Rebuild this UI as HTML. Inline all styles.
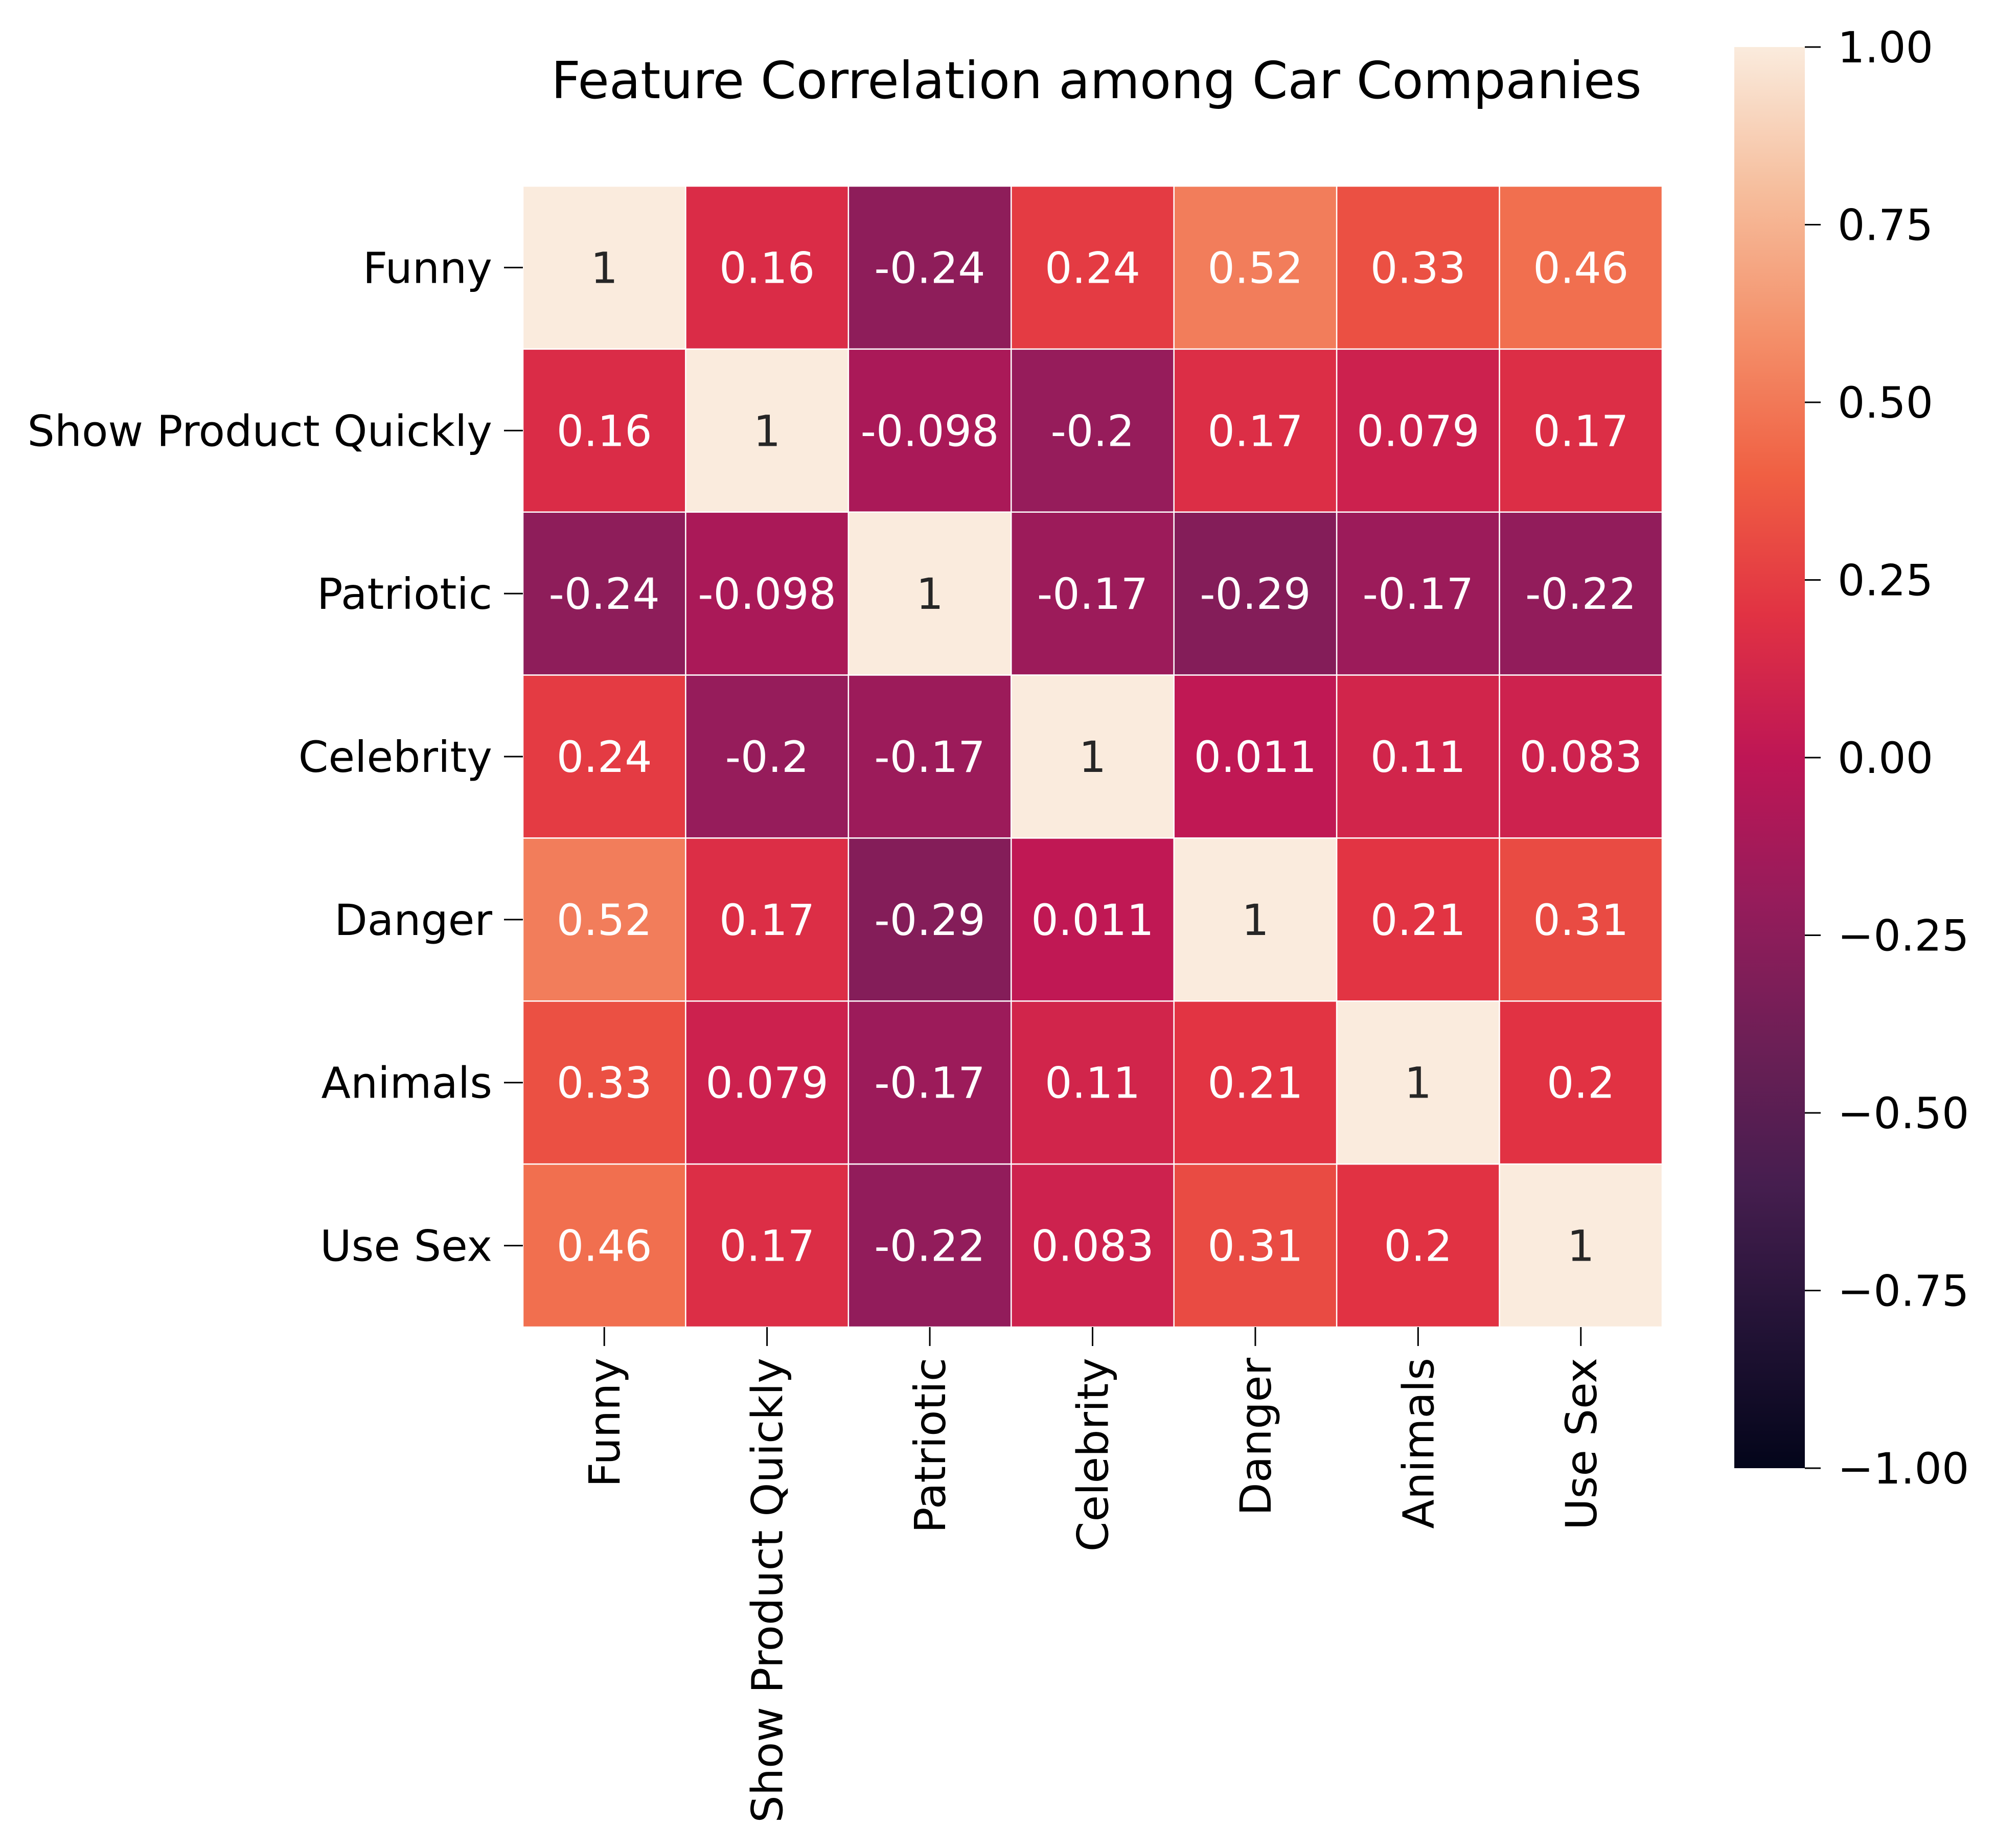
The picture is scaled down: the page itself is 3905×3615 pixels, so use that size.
<!DOCTYPE html>
<html><head><meta charset="utf-8">
<style>
html,body{margin:0;padding:0;background:#fff;}
svg{display:block;font-family:"DejaVu Sans","Liberation Sans",sans-serif;}
</style></head>
<body>
<svg id="chart" width="3905" height="3615" viewBox="0 0 3905 3615" xmlns="http://www.w3.org/2000/svg">
<defs>
<linearGradient id="cbgrad" x1="0" y1="1" x2="0" y2="0">
<stop offset="0" stop-color="rgb(3,5,26)"/>
<stop offset="0.1" stop-color="rgb(35,19,54)"/>
<stop offset="0.2" stop-color="rgb(70,30,79)"/>
<stop offset="0.3" stop-color="rgb(109,31,86)"/>
<stop offset="0.4" stop-color="rgb(150,28,91)"/>
<stop offset="0.5" stop-color="rgb(190,22,85)"/>
<stop offset="0.6" stop-color="rgb(225,50,67)"/>
<stop offset="0.7" stop-color="rgb(240,96,67)"/>
<stop offset="0.8" stop-color="rgb(244,145,107)"/>
<stop offset="0.9" stop-color="rgb(246,190,157)"/>
<stop offset="1" stop-color="rgb(250,235,221)"/>
</linearGradient>
</defs>
<text x="2145" y="192" font-size="100" text-anchor="middle" fill="#000">Feature Correlation among Car Companies</text>
<g id="cells"></g>
<g id="yaxis"></g>
<g id="xaxis"></g>
<rect x="3393" y="92" width="138" height="2780" fill="url(#cbgrad)"/>
<g id="cbar"></g>
</svg>
<script>
const categories = ["Funny","Show Product Quickly","Patriotic","Celebrity","Danger","Animals","Use Sex"];
const row0 = [1,0.16,-0.24,0.24,0.52,0.33,0.46];
const row1 = [0.16,1,-0.098,-0.2,0.17,0.079,0.17];
const row2 = [-0.24,-0.098,1,-0.17,-0.29,-0.17,-0.22];
const row3 = [0.24,-0.2,-0.17,1,0.011,0.11,0.083];
const row4 = [0.52,0.17,-0.29,0.011,1,0.21,0.31];
const row5 = [0.33,0.079,-0.17,0.11,0.21,1,0.2];
const row6 = [0.46,0.17,-0.22,0.083,0.31,0.2,1];
const matrix = [row0,row1,row2,row3,row4,row5,row6];
const cbTicks = [1,0.75,0.5,0.25,0,-0.25,-0.5,-0.75,-1];
const cbLabels = ["1.00","0.75","0.50","0.25","0.00","\u22120.25","\u22120.50","\u22120.75","\u22121.00"];

const NS="http://www.w3.org/2000/svg";
const L=1023, T=364, CW=(3252-1023)/7, CH=(2596-364)/7;
const FS=84;
const stops=[[3,5,26],[35,19,54],[70,30,79],[109,31,86],[150,28,91],[190,22,85],[225,50,67],[240,96,67],[244,145,107],[246,190,157],[250,235,221]];
function cmap(v){let t=(v+1)/2;t=Math.max(0,Math.min(1,t));const p=t*10,i=Math.min(9,Math.floor(p)),f=p-i;
 return stops[i].map((a,k)=>Math.round(a+(stops[i+1][k]-a)*f));}
function xs(j){return L+j*CW;}
function ys(i){return T+i*CH;}
function cy(v){return 92+(1-v)/2*2780;}
function mk(tag,attrs,parent){const e=document.createElementNS(NS,tag);for(const k in attrs)e.setAttribute(k,attrs[k]);parent.appendChild(e);return e;}
function lin(c){c/=255;return c<=0.03928?c/12.92:Math.pow((c+0.055)/1.055,2.4);}

const cells=document.getElementById('cells');
matrix.forEach((row,i)=>row.forEach((v,j)=>{
 const c=cmap(v);
 const r=mk('rect',{x:xs(j),y:ys(i),width:CW,height:CH,fill:`rgb(${c})`,stroke:'#fff','stroke-width':2.5},cells);
 
 
 const lum=0.2126*lin(c[0])+0.7152*lin(c[1])+0.0722*lin(c[2]);
 const t=mk('text',{x:xs(j)+CW/2,y:ys(i)+CH/2+30,'font-size':FS,'text-anchor':'middle',fill:lum>0.408?'#262626':'#fff'},cells);
 t.textContent=String(v);
 
 
}));
const ya=document.getElementById('yaxis'), xa=document.getElementById('xaxis');
categories.forEach((n,i)=>{
 const y=ys(i)+CH/2;
 mk('line',{x1:L-37,x2:L,y1:y,y2:y,stroke:'#000','stroke-width':3},ya);
 const t=mk('text',{x:L-60,y:y+30,'font-size':FS,'text-anchor':'end',fill:'#000'},ya);
 t.textContent=n;
 
 
 const x=xs(i)+CW/2;
 mk('line',{x1:x,x2:x,y1:2596,y2:2633,stroke:'#000','stroke-width':3},xa);
 const u=mk('text',{x:0,y:0,'font-size':FS,'text-anchor':'end',fill:'#000',transform:`translate(${x+30},2656) rotate(-90)`},xa);
 u.textContent=n;
 
 
});
const cb=document.getElementById('cbar');
cbTicks.forEach((v,k)=>{
 const y=cy(v);
 mk('line',{x1:3531,x2:3562,y1:y,y2:y,stroke:'#000','stroke-width':3},cb);
 const t=mk('text',{x:3595,y:y+30,'font-size':FS,fill:'#000'},cb);
 t.textContent=cbLabels[k];
 
 
});
</script>
</body></html>
